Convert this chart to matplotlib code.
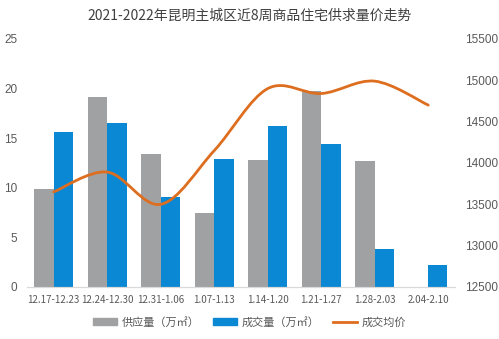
import matplotlib
matplotlib.use("Agg")
import matplotlib.pyplot as plt
import numpy as np
from matplotlib.path import Path
from matplotlib.patches import PathPatch
from matplotlib.lines import Line2D
from matplotlib.patches import Patch

plt.rcParams['font.family'] = ['Noto Sans CJK SC', 'DejaVu Sans']

# weekly data
weeks = ['12.17-12.23', '12.24-12.30', '12.31-1.06', '1.07-1.13',
         '1.14-1.20', '1.21-1.27', '1.28-2.03', '2.04-2.10']
supply = [9.9, 19.2, 13.4, 7.5, 12.8, 19.8, 12.7, 0]
deals = [15.6, 16.5, 9.1, 12.9, 16.2, 14.4, 3.8, 2.2]
price = [13650, 13890, 13500, 14150, 14900, 14840, 14990, 14700]

gray = '#A0A1A3'
blue = '#0A88D4'
orange = '#DE6E1F'
txt = '#595959'


def smooth_path(xs, ys):
    # Catmull-Rom style smoothing, built as cubic Bezier segments
    xs = np.asarray(xs, float)
    ys = np.asarray(ys, float)
    n = len(xs)
    verts = [(xs[0], ys[0])]
    codes = [Path.MOVETO]
    for i in range(n - 1):
        i0 = max(i - 1, 0)
        i3 = min(i + 2, n - 1)
        c1 = (xs[i] + (xs[i + 1] - xs[i0]) / 6, ys[i] + (ys[i + 1] - ys[i0]) / 6)
        c2 = (xs[i + 1] - (xs[i3] - xs[i]) / 6, ys[i + 1] - (ys[i3] - ys[i]) / 6)
        verts += [c1, c2, (xs[i + 1], ys[i + 1])]
        codes += [Path.CURVE4] * 3
    return Path(verts, codes)


fig = plt.figure(figsize=(4.99, 3.39), dpi=100)
ax = fig.add_axes([0.0541, 0.1534, 0.8577, 0.7316])
ax2 = ax.twinx()

x = np.arange(len(weeks))
w = 0.36
ax.bar(x - w / 2, supply, width=w, color=gray)
ax.bar(x + w / 2, deals, width=w, color=blue)

ax2.add_patch(PathPatch(smooth_path(x, price), facecolor='none',
                        edgecolor=orange, lw=2.0, capstyle='round'))

ax.set_xlim(-0.5, len(weeks) - 0.5)
ax.set_ylim(0, 25)
ax.set_yticks(range(0, 26, 5))
ax2.set_ylim(12500, 15500)
ax2.set_yticks(range(12500, 15501, 500))

ax.set_xticks(x)
ax.set_xticklabels(weeks, fontsize=7, color=txt)
ax.tick_params(axis='x', length=0, pad=6)
ax.tick_params(axis='y', length=0, pad=7, labelsize=8.5, labelcolor=txt)
ax2.tick_params(axis='y', length=0, pad=7, labelsize=8.5, labelcolor=txt)
for lab in ax.get_yticklabels() + ax2.get_yticklabels():
    lab.set_fontfamily('Liberation Sans')

for a in (ax, ax2):
    for s in ('top', 'left', 'right'):
        a.spines[s].set_visible(False)
    a.spines['bottom'].set_color('#D9D9D9')

fig.suptitle('2021-2022年昆明主城区近8周商品住宅供求量价走势',
             x=0.5, y=0.975, fontsize=10, color='#404040')

handles = [Patch(color=gray), Patch(color=blue),
           Line2D([0], [0], color=orange, lw=2)]
labels = ['供应量（万㎡）', '成交量（万㎡）', '成交均价']
fig.legend(handles, labels, loc='center', bbox_to_anchor=(0.5, 0.05),
           ncol=3, frameon=False, fontsize=8, handlelength=2.2,
           handleheight=0.5, columnspacing=1.2, handletextpad=0.4,
           labelcolor=txt)

fig.savefig('out.png', dpi=100)
